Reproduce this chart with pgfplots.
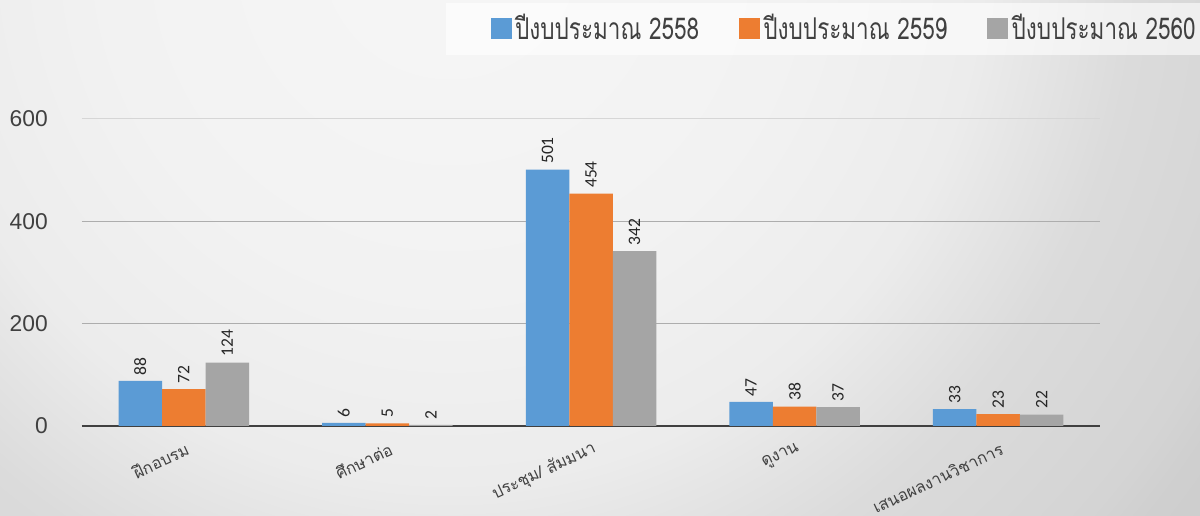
\documentclass[border=0pt]{standalone}
\usepackage{fontspec}
\setmainfont{Liberation Sans}
\newfontfamily\thaifont[Script=Thai]{Loma}
\newfontfamily\thaicond[Script=Thai, FakeStretch=0.75]{Loma}
\newfontfamily\calibri{Carlito}
\usepackage{pgfplots}
\pgfplotsset{compat=1.18}

\definecolor{c58}{HTML}{5B9BD5}
\definecolor{c59}{HTML}{ED7D31}
\definecolor{c60}{HTML}{A5A5A5}
\definecolor{txt}{HTML}{404040}
\definecolor{gridA}{HTML}{D6D6D6}
\definecolor{gridB}{HTML}{ADADAD}
\definecolor{bg0}{HTML}{F6F6F6}
\definecolor{bg1}{HTML}{F2F2F2}
\definecolor{bg2}{HTML}{ECECEC}
\definecolor{bg3}{HTML}{DBDBDB}
\definecolor{bg4}{HTML}{D4D4D4}
\definecolor{bg5}{HTML}{CFCFCF}
\definecolor{bg6}{HTML}{C8C8C8}

\pgfdeclareradialshading{bgshade}{\pgfpoint{0bp}{0bp}}{color(0bp)=(bg0); color(8.6bp)=(bg1); color(13.3bp)=(bg2); color(17.2bp)=(bg3); color(21.3bp)=(bg4); color(22.5bp)=(bg5); color(27.6bp)=(bg6); color(50bp)=(bg6)}

% budget years 2558-2560, one row per activity
\pgfplotstableread{
x y58 y59 y60
0 88  72  124
1 6   5   2
2 501 454 342
3 47  38  37
4 33  23  22
}\data

\begin{document}
\begin{tikzpicture}
\useasboundingbox (0,0) rectangle (720pt,309.6pt);
\clip (0,0) rectangle (720pt,309.6pt);
\fill[bg6] (0,0) rectangle (720pt,309.6pt);
\shade[shading=bgshade] (270pt,339.6pt) circle (600pt);
\fill[white, opacity=0.6] (267.6pt,276.6pt) rectangle (720pt,307.8pt);

\begin{axis}[
    at={(49.2pt,54pt)}, anchor=south west,
    scale only axis,
    width=610.8pt, height=184.2pt,
    ybar=0pt, bar width=26.1pt,
    xmin=-0.5, xmax=4.5,
    ymin=0, ymax=600,
    xtick={0,1,2,3,4},
    xticklabels={ฝึกอบรม, ศึกษาต่อ, {ประชุม/ สัมมนา}, ดูงาน, เสนอผลงานวิชาการ},
    ytick={0,600},
    extra y ticks={200,400},
    extra y tick style={grid style={color=gridB, line width=0.7pt}},
    ymajorgrids,
    grid style={color=gridA, line width=0.6pt},
    major tick length=0pt,
    axis x line*=bottom, axis y line*=left,
    y axis line style={draw=none},
    x axis line style={draw=txt, line width=1.6pt, -},
    /pgf/number format/assume math mode=true,
    yticklabel style={font=\fontsize{13.7}{15}\selectfont, text=txt, xshift=-17pt},
    xticklabel style={font=\thaifont\fontsize{9.8}{11}\selectfont, text=txt, rotate=25, anchor=east, yshift=-13pt},
    nodes near coords,
    every node near coord/.append style={rotate=90, anchor=west, font=\calibri\fontsize{10.5}{12}\selectfont, text=black!85},
    legend columns=3,
    legend cell align=left,
    legend style={at={(axis description cs:0.3963,1.2964)}, anchor=west, draw=none, fill=none,
        font=\thaicond\fontsize{18}{20}\selectfont, text=txt,
        /tikz/every even column/.append style={column sep=22pt}},
]
\addplot[fill=c58, draw=none, legend image code/.code={\fill[c58] (0pt,-6.3pt) rectangle (12.6pt,6.3pt);}] table[x=x, y=y58] {\data};
\addlegendentry{ปีงบประมาณ 2558}
\addplot[fill=c59, draw=none, legend image code/.code={\fill[c59] (0pt,-6.3pt) rectangle (12.6pt,6.3pt);}] table[x=x, y=y59] {\data};
\addlegendentry{ปีงบประมาณ 2559}
\addplot[fill=c60, draw=none, legend image code/.code={\fill[c60] (0pt,-6.3pt) rectangle (12.6pt,6.3pt);}] table[x=x, y=y60] {\data};
\addlegendentry{ปีงบประมาณ 2560}
\end{axis}
\end{tikzpicture}
\end{document}
